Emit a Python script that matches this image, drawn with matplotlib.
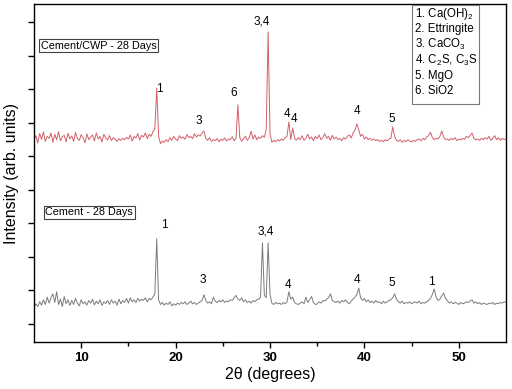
import numpy as np
import matplotlib
matplotlib.use("Agg")
import matplotlib.pyplot as plt
from matplotlib.patches import Rectangle

plt.rcParams['font.family'] = ['Liberation Sans', 'DejaVu Sans']
plt.rcParams['mathtext.fontset'] = 'custom'
plt.rcParams['mathtext.rm'] = 'Liberation Sans'

# 2theta grid: 5.0 .. 55.0 deg in steps of 0.2 deg
two_theta = np.linspace(5.0, 55.0, 251)

# Cement/CWP - 28 days (counts, arb.)
cwp_counts = [
    58, 72, 50, 78, 61, 83, 55, 70, 64, 80,
    52, 76, 60, 84, 57, 69, 73, 54, 79, 62,
    71, 55, 82, 63, 58, 75, 66, 51, 77, 60,
    68, 74, 56, 80, 62, 70, 53, 76, 65, 59,
    72, 57, 66, 61, 55, 63, 58, 64, 60, 67,
    62, 74, 56, 70, 65, 78, 59, 73, 68, 80,
    63, 76, 70, 84, 92, 214, 70, 48, 56, 52,
    60, 54, 66, 58, 70, 62, 57, 72, 64, 68,
    61, 75, 66, 70, 63, 78, 68, 74, 71, 80,
    86, 64, 58, 66, 55, 60, 57, 63, 54, 61,
    58, 65, 56, 62, 60, 69, 57, 64, 164, 66,
    55, 63, 70, 58, 66, 85, 62, 74, 60, 68,
    64, 72, 67, 90, 382, 78, 52, 58, 54, 60,
    56, 62, 58, 66, 70, 113, 60, 95, 64, 58,
    66, 60, 72, 58, 64, 76, 62, 68, 57, 70,
    63, 74, 60, 66, 78, 64, 70, 58, 73, 62,
    68, 60, 64, 57, 66, 62, 70, 74, 65, 80,
    88, 107, 90, 70, 76, 62, 68, 60, 64, 58,
    62, 57, 60, 55, 58, 54, 60, 56, 62, 64,
    98, 70, 58, 55, 60, 52, 58, 54, 60, 56,
    53, 58, 55, 60, 62, 57, 64, 60, 68, 72,
    82, 66, 60, 64, 62, 70, 86, 68, 60, 62,
    58, 64, 60, 66, 57, 62, 59, 64, 61, 70,
    66, 72, 80, 64, 60, 62, 58, 64, 60, 66,
    62, 70, 58, 64, 72, 60, 66, 58, 64, 60,
    62,
]

# Cement - 28 days (counts, arb.)
cement_counts = [
    48, 60, 52, 66, 56, 72, 58, 80, 62, 78,
    90, 64, 96, 58, 74, 52, 82, 60, 72, 55,
    70, 58, 76, 62, 54, 72, 60, 66, 56, 70,
    62, 74, 57, 68, 60, 72, 55, 66, 61, 70,
    58, 72, 62, 68, 56, 74, 60, 70, 64, 76,
    62, 78, 66, 72, 64, 76, 68, 74, 70, 78,
    66, 76, 72, 80, 90, 254, 72, 58, 64, 56,
    62, 58, 66, 54, 60, 56, 62, 58, 64, 60,
    66, 58, 62, 68, 60, 64, 58, 62, 66, 70,
    87, 70, 62, 66, 60, 80, 68, 64, 70, 66,
    72, 64, 68, 66, 72, 70, 78, 85, 74, 70,
    78, 66, 72, 64, 68, 62, 70, 66, 72, 74,
    80, 242, 86, 78, 242, 88, 62, 58, 64, 60,
    62, 58, 64, 60, 66, 96, 74, 80, 64, 60,
    58, 62, 66, 60, 80, 64, 72, 82, 64, 58,
    60, 66, 62, 70, 68, 74, 78, 90, 70, 66,
    64, 68, 62, 70, 66, 72, 64, 60, 68, 74,
    80, 88, 107, 78, 70, 76, 66, 72, 64, 68,
    62, 70, 64, 66, 60, 68, 62, 66, 70, 72,
    78, 90, 74, 66, 62, 68, 60, 64, 62, 66,
    60, 64, 66, 62, 68, 60, 64, 62, 66, 70,
    76, 88, 104, 80, 70, 74, 84, 92, 76, 68,
    62, 66, 60, 64, 62, 58, 64, 60, 62, 66,
    64, 68, 72, 62, 66, 60, 64, 58, 62, 60,
    58, 62, 60, 64, 58, 62, 60, 64, 62, 66,
    64,
]

# peak labels: (text, 2theta, height in plot units)
cwp_labels = [("1", 18.3, 7.02), ("3", 22.46, 6.06), ("6", 26.16, 6.9),
              ("3,4", 29.13, 9.04), ("4", 31.77, 6.27), ("4", 32.51, 6.12),
              ("4", 39.18, 6.36), ("5", 42.88, 6.12)]
cement_labels = [("1", 18.76, 2.96), ("3", 22.88, 1.31), ("3,4", 29.55, 2.75),
                 ("4", 31.88, 1.16), ("4", 39.18, 1.31), ("5", 42.88, 1.22),
                 ("1", 47.12, 1.25)]

phases = ["1. Ca(OH)$_2$", "2. Ettringite", "3. CaCO$_3$",
          "4. C$_2$S, C$_3$S", "5. MgO", "6. SiO2"]

offset = 4.9   # vertical shift of the CWP pattern
scale = 0.01

fig = plt.figure(figsize=(5.12, 3.89), dpi=100)
ax = fig.add_axes([34/512, 1 - 342/389, 472/512, 338/389])

ax.plot(two_theta, np.array(cement_counts)*scale, color="#7c7c7c", lw=0.7)
ax.plot(two_theta, np.array(cwp_counts)*scale + offset, color="#d2606a", lw=0.7)

for t, x, y in cwp_labels + cement_labels:
    ax.text(x, y, t, ha="center", va="center", fontsize=8.5)

box = dict(boxstyle="square,pad=0.15", fc="white", ec="#444444", lw=0.8)
ax.text(5.75, 8.3, "Cement/CWP - 28 Days", fontsize=7.8, ha="left", va="center", bbox=box)
ax.text(6.2, 3.33, "Cement - 28 Days", fontsize=7.8, ha="left", va="center", bbox=box)

# phase key
fig.patches.append(Rectangle((412/512, 1 - 104/389), 67/512, 99/389,
                             transform=fig.transFigure, fc="white", ec="#777777", lw=0.8))
for k, p in enumerate(phases):
    fig.text(415/512, 1 - (13.5 + 15.5*k)/389, p, fontsize=8.3, ha="left", va="center")

ax.set_xlim(5, 55)
ax.set_ylim(-0.54, 9.55)
ax.set_xticks([10, 20, 30, 40, 50])
ax.set_xticks([15, 25, 35, 45], minor=True)
ax.set_yticks(range(10))
ax.set_yticklabels([])
ax.tick_params(axis="x", which="major", direction="out", length=4, width=1, labelsize=9.5)
ax.tick_params(axis="x", which="minor", direction="out", length=3, width=1)
ax.tick_params(axis="y", direction="out", length=4, width=1)
for lab in ax.get_xticklabels():
    lab.set_fontweight("bold")
for s in ax.spines.values():
    s.set_linewidth(1.0)

ax.set_xlabel("2\u03b8 (degrees)", fontsize=11.5, labelpad=2)
ax.set_ylabel("Intensity (arb. units)", fontsize=11.5, labelpad=3)

plt.savefig("out.png", dpi=100)
